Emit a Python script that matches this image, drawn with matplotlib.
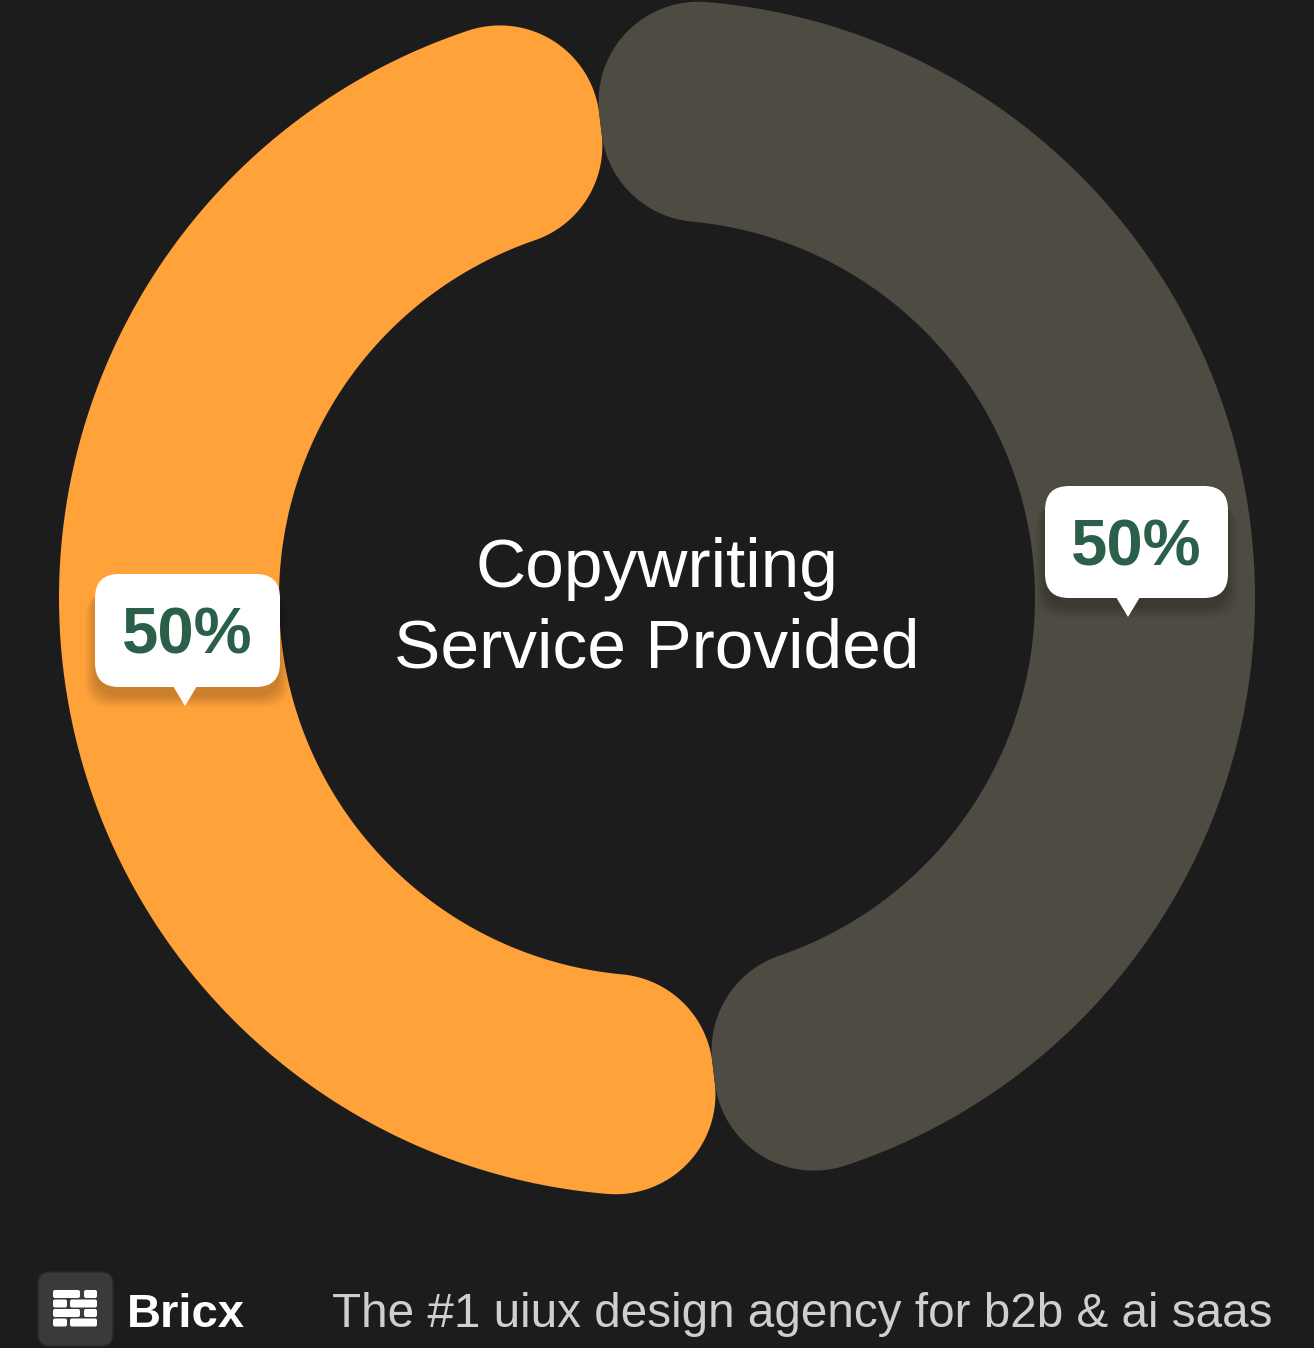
import numpy as np
import matplotlib
matplotlib.use("Agg")
import matplotlib.pyplot as plt
from matplotlib.patches import FancyBboxPatch, Polygon

# ---- data ----
categories = ["Copywriting", "Other"]
values = [50, 50]
pct_labels = ["50%", "50%"]
colors = ["#FFA23A", "#4E4B43"]
center_lines = ["Copywriting", "Service Provided"]
brand = "Bricx"
tagline = "The #1 uiux design agency for b2b & ai saas"

W, H = 1314, 1348
BG = "#1C1C1C"
FONT = ["Liberation Sans", "DejaVu Sans"]

fig = plt.figure(figsize=(W / 100, H / 100), dpi=100, facecolor=BG)
ax = fig.add_axes([0, 0, 1, 1])
ax.set_xlim(0, W)
ax.set_ylim(0, H)
ax.set_aspect("equal")
ax.axis("off")
ax.set_facecolor(BG)

cx, cy = 657, H - 598
R_out, R_in = 598, 378
corner = 100
start_deg = 96.8


def arc_pts(xc, yc, r, a0, a1, n=200):
    t = np.linspace(a0, a1, n)
    return np.column_stack([xc + r * np.cos(t), yc + r * np.sin(t)])


def short_arc(xc, yc, r, p0, p1, n=40):
    a0 = np.arctan2(p0[1] - yc, p0[0] - xc)
    a1 = np.arctan2(p1[1] - yc, p1[0] - xc)
    d = (a1 - a0 + np.pi) % (2 * np.pi) - np.pi
    return arc_pts(xc, yc, r, a0, a0 + d, n)


def rounded_sector(t1, t2, Ro, Ri, c):
    do = np.arcsin(c / (Ro - c))
    di = np.arcsin(c / (Ri + c))
    pts = [arc_pts(cx, cy, Ro, t1 + do, t2 - do)]
    fc = (cx + (Ro - c) * np.cos(t2 - do), cy + (Ro - c) * np.sin(t2 - do))
    p_arc = (cx + Ro * np.cos(t2 - do), cy + Ro * np.sin(t2 - do))
    L = (Ro - c) * np.cos(do)
    p_rad = (cx + L * np.cos(t2), cy + L * np.sin(t2))
    pts.append(short_arc(fc[0], fc[1], c, p_arc, p_rad))
    fc = (cx + (Ri + c) * np.cos(t2 - di), cy + (Ri + c) * np.sin(t2 - di))
    L = (Ri + c) * np.cos(di)
    p_rad = (cx + L * np.cos(t2), cy + L * np.sin(t2))
    p_arc = (cx + Ri * np.cos(t2 - di), cy + Ri * np.sin(t2 - di))
    pts.append(short_arc(fc[0], fc[1], c, p_rad, p_arc))
    pts.append(arc_pts(cx, cy, Ri, t2 - di, t1 + di))
    fc = (cx + (Ri + c) * np.cos(t1 + di), cy + (Ri + c) * np.sin(t1 + di))
    p_arc = (cx + Ri * np.cos(t1 + di), cy + Ri * np.sin(t1 + di))
    L = (Ri + c) * np.cos(di)
    p_rad = (cx + L * np.cos(t1), cy + L * np.sin(t1))
    pts.append(short_arc(fc[0], fc[1], c, p_arc, p_rad))
    fc = (cx + (Ro - c) * np.cos(t1 + do), cy + (Ro - c) * np.sin(t1 + do))
    L = (Ro - c) * np.cos(do)
    p_rad = (cx + L * np.cos(t1), cy + L * np.sin(t1))
    p_arc = (cx + Ro * np.cos(t1 + do), cy + Ro * np.sin(t1 + do))
    pts.append(short_arc(fc[0], fc[1], c, p_rad, p_arc))
    return np.vstack(pts)


total = sum(values)
angle = np.deg2rad(start_deg)
for v, col in zip(values, colors):
    span = 2 * np.pi * v / total
    poly = rounded_sector(angle, angle + span, R_out, R_in, corner)
    ax.add_patch(Polygon(poly, closed=True, facecolor=col, edgecolor="none", zorder=2))
    angle += span

# ---- centre text ----
for line, base in zip(center_lines, [587, 668]):
    ax.text(cx, H - base, line, ha="center", va="baseline", color="white",
            fontsize=50, family=FONT, zorder=5)


# ---- callouts ----
def callout(x0, y0_px, w, h, tip_x, tip_y_px, label):
    y0 = H - y0_px - h
    for i in range(6):
        g = 3 + i * 4
        ax.add_patch(FancyBboxPatch((x0 - g / 2 + 2, y0 - 8 - g / 2), w + g - 4, h,
                                    boxstyle="round,pad=0,rounding_size=24",
                                    facecolor="black", edgecolor="none", alpha=0.035, zorder=6))
    ax.add_patch(FancyBboxPatch((x0, y0), w, h, boxstyle="round,pad=0,rounding_size=24",
                                facecolor="white", edgecolor="none", zorder=7))
    ax.add_patch(Polygon([(tip_x - 12, y0 + 1), (tip_x + 12, y0 + 1), (tip_x, H - tip_y_px)],
                         closed=True, facecolor="white", edgecolor="none", zorder=7))
    ax.text(x0 + w / 2, y0 + h / 2 - 23, label, ha="center", va="baseline", color="#2A6049",
            fontsize=47, family=FONT, fontweight="bold", zorder=8)


callout(95, 574, 185, 113, 185, 706, pct_labels[0])
callout(1045, 486, 183, 112, 1128, 617, pct_labels[1])

# ---- footer ----
ax.add_patch(FancyBboxPatch((38, H - 1346), 75, 74, boxstyle="round,pad=0,rounding_size=12",
                            facecolor="#3A3A3A", edgecolor="#2A2A2A", lw=1, zorder=3))
bricks = [
    [(53, 27), (84, 13)],
    [(53, 14), (70, 27)],
    [(53, 27), (84, 13)],
    [(53, 14), (70, 27)],
]
for r, row in enumerate(bricks):
    ytop = 1290 + r * 9.5
    for bx, bw in row:
        ax.add_patch(FancyBboxPatch((bx, H - ytop - 8), bw, 8,
                                    boxstyle="round,pad=0,rounding_size=2",
                                    facecolor="white", edgecolor="none", zorder=4))

ax.text(127, H - 1327, brand, ha="left", va="baseline", color="white", fontsize=34,
        family=FONT, fontweight="bold")
ax.text(1273, H - 1327, tagline, ha="right", va="baseline", color="#CFCFCF", fontsize=34.3,
        family=FONT)

fig.savefig("out.png", dpi=100, facecolor=BG)
